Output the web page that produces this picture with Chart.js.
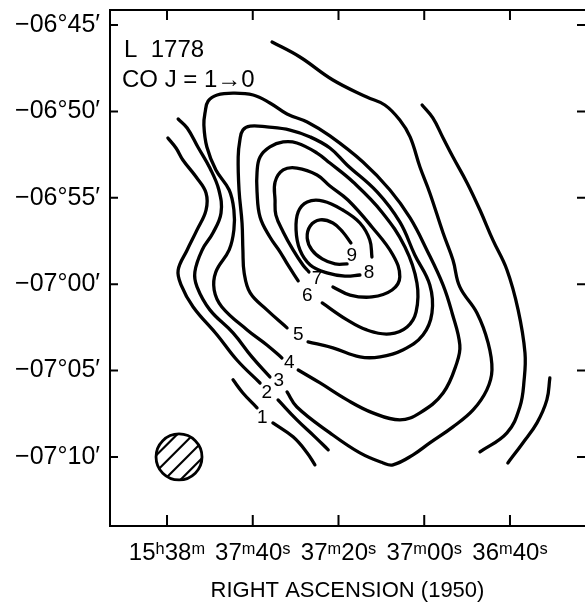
<!DOCTYPE html>
<html>
<head>
<meta charset="utf-8">
<script src="https://cdn.jsdelivr.net/npm/chart.js@4.4.0/dist/chart.umd.min.js"></script>
<style>
html, body { margin: 0; padding: 0; background: #fff; }
</style>
</head>
<body>
<canvas id="myChart" width="585" height="610"></canvas>
<script>
// RA = seconds of time after 15h36m00s (1950), Dec = arcmin offset from -07°00'
var raTicks = [120, 100, 80, 60, 40];
var raLabels = ["15ʰ38ᵐ", "37ᵐ40ˢ", "37ᵐ20ˢ", "37ᵐ00ˢ", "36ᵐ40ˢ"];
var decTicks = [15, 10, 5, 0, -5, -10];
var decLabels = ["−06°45′", "−06°50′", "−06°55′", "−07°00′", "−07°05′", "−07°10′"];

// contour pieces, [RA, Dec]
var level1a = [[104.6,-5.54],[102.3,-6.30],[99.0,-7.16]];
var level1b = [[95.3,-8.03],[90.6,-8.84],[87.3,-9.77],[85.5,-10.46]];
var level1c = [[30.7,-5.43],[31.4,-6.70],[33.7,-8.03],[37.0,-9.19],[40.5,-10.35]];

var level2a = [[119.8,8.46],[117.9,7.88],[116.3,7.19],[113.2,6.20],[110.9,5.28],[110.9,4.29],[113.0,3.14],[115.3,1.98],[117.4,0.82],[116.7,-0.05],[113.9,-1.32],[108.3,-2.94],[103.7,-4.39],[98.3,-5.72]];
var level2b = [[94.1,-6.70],[89.7,-7.86],[85.5,-8.84],[82.4,-9.59]];
var level2c = [[60.5,10.37],[58.0,9.62],[55.6,8.46],[53.3,7.36],[50.0,5.86],[47.0,4.29],[44.0,2.56],[40.7,0.82],[38.1,-1.49],[36.5,-3.98],[36.7,-5.54],[37.7,-7.11],[40.7,-8.61],[47.0,-9.71]];

var level3a = [[117.4,9.56],[115.3,9.04],[112.8,7.94],[110.0,6.72],[107.9,5.45],[107.4,4.12],[109.3,2.96],[111.8,1.98],[113.5,0.71],[113.0,-0.16],[110.0,-1.49],[104.6,-2.82],[100.2,-4.21],[96.0,-5.37]];
var level3b = [[92.0,-6.24],[89.7,-7.11],[82.0,-8.61],[75.0,-9.77],[69.6,-10.35],[67.3,-10.46],[62.6,-9.88],[58.7,-9.19],[53.3,-8.26],[48.6,-7.28],[45.4,-6.12],[44.2,-4.97],[45.1,-3.40],[47.7,-1.67],[51.7,-0.16],[53.3,1.40],[55.6,2.96],[58.7,5.28],[61.0,6.78],[63.3,8.52],[65.7,9.50],[69.2,10.37],[73.4,10.83],[81.3,11.82],[89.0,13.15],[95.5,14.02]];

var level4 = [[89.4,-4.97],[84.3,-5.72],[78.0,-6.70],[72.0,-7.45],[65.7,-7.86],[61.0,-7.45],[55.6,-6.30],[52.4,-4.56],[51.7,-3.52],[53.5,-1.67],[55.6,-0.05],[59.4,1.98],[63.3,3.83],[68.0,5.45],[74.3,7.07],[82.0,8.58],[87.3,9.39],[92.0,9.85],[96.0,10.49],[99.9,10.95],[104.6,11.06],[108.3,10.95],[110.4,10.60],[111.1,9.97],[111.4,9.21],[110.7,7.94],[108.6,6.61],[105.5,5.45],[104.4,4.29],[104.4,3.14],[105.5,1.98],[108.6,0.71],[109.0,-0.34],[107.2,-1.32],[101.3,-2.65],[96.7,-3.52],[93.2,-4.27]];

var level5 = [[87.1,-3.34],[81.3,-3.69],[75.0,-4.21],[70.3,-4.21],[65.0,-3.81],[60.3,-2.94],[58.2,-1.67],[58.7,-0.05],[62.2,1.69],[65.7,3.60],[71.0,5.34],[78.0,6.90],[82.0,7.88],[86.6,8.52],[91.3,8.92],[96.7,9.10],[100.6,9.15],[102.3,8.92],[103.0,8.34],[103.4,7.36],[103.2,5.45],[102.5,3.54],[102.3,1.98],[102.0,0.65],[100.6,-0.51],[96.7,-1.49],[92.0,-2.53]];

var level6 = [[83.8,-1.09],[78.0,-2.07],[73.4,-2.65],[68.0,-2.88],[64.0,-2.48],[61.9,-1.61],[61.7,0.07],[64.5,2.15],[69.9,4.18],[76.6,5.91],[82.0,7.01],[85.0,7.59],[89.7,8.17],[92.9,8.23],[96.0,7.94],[98.3,7.36],[99.0,6.49],[99.0,5.34],[98.3,3.89],[96.0,2.73],[93.6,1.86],[91.8,1.11],[89.4,0.19]];

var level7 = [[81.3,-0.16],[77.3,-0.63],[72.2,-0.74],[67.5,-0.34],[65.7,0.42],[67.3,1.69],[72.2,3.31],[77.8,4.87],[82.0,5.68],[85.0,6.32],[89.7,6.72],[92.9,6.61],[94.8,5.91],[94.8,4.87],[94.6,4.00],[92.9,3.02],[90.6,1.98],[88.3,1.11],[86.9,0.71]];

var level8 = [[72.2,1.57],[72.7,2.56],[75.0,3.54],[79.0,4.29],[83.6,4.81],[87.3,4.76],[89.4,4.18],[89.9,3.14],[89.0,1.98],[86.6,1.11],[82.7,0.65],[78.5,0.47],[75.0,0.53]];

var level9 = [[77.1,2.38],[79.0,3.02],[81.3,3.54],[84.3,3.72],[86.6,3.37],[87.3,2.67],[86.2,1.98],[83.8,1.46],[80.8,1.17],[78.0,1.17]];

// contour level labels
var labelText = ["1", "2", "3", "4", "5", "6", "7", "8", "9"];
var labelRA = [97.8, 96.7, 93.9, 91.5, 89.4, 87.3, 85.0, 72.9, 76.9];
var labelDec = [-7.74, -6.30, -5.60, -4.56, -2.94, -0.68, 0.30, 0.65, 1.63];

// beam (arcmin)
var beamRA = 117.2;
var beamDec = -10.0;
var beamRadius = 1.33;

var pieces = [level1a, level1b, level1c, level2a, level2b, level2c, level3a, level3b,
              level4, level5, level6, level7, level8, level9];

var datasets = pieces.map(function (p) {
    return {
        data: p.map(function (q) { return { x: q[0], y: q[1] }; }),
        showLine: true,
        borderColor: '#000',
        borderWidth: 3.3,
        borderCapStyle: 'round',
        borderJoinStyle: 'round',
        pointRadius: 0,
        tension: 0.4,
        fill: false
    };
});

Chart.defaults.font.family = "'Liberation Sans', Arial, sans-serif";
Chart.defaults.color = '#000';

const extras = {
    id: 'extras',
    afterDatasetsDraw(chart) {
        const ctx = chart.ctx;
        const a = chart.chartArea;
        const xs = chart.scales.x;
        const ys = chart.scales.y;
        ctx.save();
        ctx.strokeStyle = '#000';
        ctx.fillStyle = '#000';

        // frame (right side is off the page)
        ctx.lineWidth = 2;
        ctx.beginPath();
        ctx.moveTo(a.right, a.top);
        ctx.lineTo(a.left, a.top);
        ctx.lineTo(a.left, a.bottom);
        ctx.lineTo(a.right, a.bottom);
        ctx.stroke();

        // inward ticks
        ctx.beginPath();
        raTicks.forEach(function (v) {
            var px = xs.getPixelForValue(v);
            ctx.moveTo(px, a.bottom); ctx.lineTo(px, a.bottom - 11);
            ctx.moveTo(px, a.top); ctx.lineTo(px, a.top + 10);
        });
        decTicks.forEach(function (v) {
            var py = ys.getPixelForValue(v);
            ctx.moveTo(a.left, py); ctx.lineTo(a.left + 8, py);
            ctx.moveTo(a.right, py); ctx.lineTo(a.right - 8, py);
        });
        ctx.stroke();

        // contour labels
        ctx.font = "19px 'Liberation Sans', Arial, sans-serif";
        ctx.textAlign = 'center';
        ctx.textBaseline = 'middle';
        for (var i = 0; i < labelText.length; i++) {
            ctx.fillText(labelText[i], xs.getPixelForValue(labelRA[i]), ys.getPixelForValue(labelDec[i]));
        }

        // source name
        ctx.textAlign = 'left';
        ctx.textBaseline = 'alphabetic';
        ctx.font = "24px 'Liberation Sans', Arial, sans-serif";
        ctx.fillText("L  1778", a.left + 14, a.top + 47);
        ctx.fillText("CO J = 1→0", a.left + 12, a.top + 77);

        // beam
        var cx = xs.getPixelForValue(beamRA);
        var cy = ys.getPixelForValue(beamDec);
        var r = Math.abs(ys.getPixelForValue(beamDec + beamRadius) - cy);
        ctx.lineWidth = 2.8;
        ctx.beginPath();
        ctx.arc(cx, cy, r, 0, Math.PI * 2);
        ctx.stroke();
        ctx.save();
        ctx.beginPath();
        ctx.arc(cx, cy, r, 0, Math.PI * 2);
        ctx.clip();
        ctx.lineWidth = 2.2;
        var s = Math.SQRT1_2;
        [-1.5, -0.5, 0.5, 1.5].forEach(function (k) {
            var d = k * r * 0.5;
            var ox = cx + d * s, oy = cy + d * s;
            ctx.beginPath();
            ctx.moveTo(ox - r * 1.2 * s, oy + r * 1.2 * s);
            ctx.lineTo(ox + r * 1.2 * s, oy - r * 1.2 * s);
            ctx.stroke();
        });
        ctx.restore();

        ctx.restore();
    }
};

const ctx = document.getElementById('myChart');
const myChart = new Chart(ctx, {
    type: 'scatter',
    data: { datasets: datasets },
    options: {
        responsive: false,
        animation: false,
        layout: { padding: { top: 10, right: 0, left: 0, bottom: 0 } },
        plugins: { legend: { display: false }, tooltip: { enabled: false } },
        scales: {
            x: {
                type: 'linear',
                reverse: true,
                min: 22.5,
                max: 133.3,
                border: { display: false },
                grid: { display: false, drawTicks: false },
                afterBuildTicks: function (scale) {
                    scale.ticks = raTicks.map(function (v) { return { value: v }; });
                },
                afterFit: function (scale) {
                    scale.height = 84;
                    scale.paddingLeft = 0;
                    scale.paddingRight = 0;
                },
                ticks: {
                    autoSkip: false,
                    maxRotation: 0,
                    padding: 13,
                    font: { size: 24 },
                    callback: function (value) { return raLabels[raTicks.indexOf(value)]; }
                },
                title: {
                    display: true,
                    text: 'RIGHT ASCENSION (1950)',
                    font: { size: 22 },
                    padding: { top: 0, bottom: 6 }
                }
            },
            y: {
                type: 'linear',
                min: -14.0,
                max: 15.87,
                border: { display: false },
                grid: { display: false, drawTicks: false },
                afterBuildTicks: function (scale) {
                    scale.ticks = decTicks.map(function (v) { return { value: v }; });
                },
                afterFit: function (scale) {
                    scale.width = 110;
                    scale.paddingTop = 0;
                    scale.paddingBottom = 0;
                },
                ticks: {
                    autoSkip: false,
                    padding: 10,
                    font: { size: 25 },
                    callback: function (value) { return decLabels[decTicks.indexOf(value)]; }
                }
            }
        }
    },
    plugins: [extras]
});
</script>
</body>
</html>
